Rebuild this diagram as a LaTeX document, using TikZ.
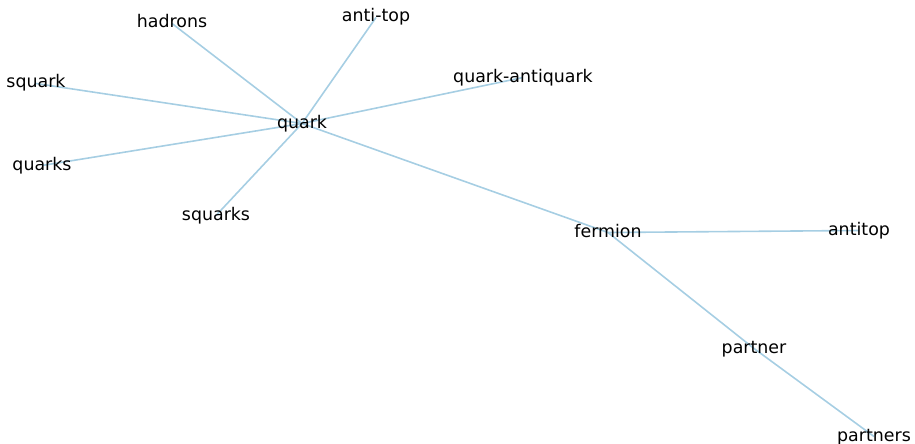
\documentclass[tikz,border=0pt]{standalone}
\usepackage{fontspec}
\setmainfont{DejaVu Sans}
\usetikzlibrary{backgrounds}
\definecolor{edgeblue}{RGB}{166,206,227}
\tikzset{
  term/.style={inner sep=0pt, text height=13pt, text depth=4pt,
               font=\fontsize{17.4}{20}\selectfont, text=black},
  link/.style={draw=edgeblue, line width=1.6pt}
}
\begin{document}
\begin{tikzpicture}[x=1pt, y=-1pt]
  \useasboundingbox (0,0) rectangle (915,444);
  % terms
  \node[term] (quark)  at (302,123.5) {quark};
  \node[term] (hadrons) at (172,23.5) {hadrons};
  \node[term] (antitopA) at (376,17.5) {anti-top};
  \node[term] (qaq) at (523,77.5) {quark-antiquark};
  \node[term] (squark) at (36,83.5) {squark};
  \node[term] (quarks) at (42,165.5) {quarks};
  \node[term] (squarks) at (216,215.5) {squarks};
  \node[term] (fermion) at (608,232.5) {fermion};
  \node[term] (antitop) at (859,230.5) {antitop};
  \node[term] (partner) at (754,348.5) {partner};
  \node[term] (partners) at (874,436.5) {partners};
  % links drawn beneath the labels
  \begin{pgfonlayer}{background}
    \foreach \t in {hadrons,antitopA,qaq,squark,quarks,squarks,fermion}
      \path[link] (quark.center) -- (\t.center);
    \path[link] (fermion.center) -- (antitop.center);
    \path[link] (fermion.center) -- (partner.center);
    \path[link] (partner.center) -- (partners.center);
  \end{pgfonlayer}
\end{tikzpicture}
\end{document}
